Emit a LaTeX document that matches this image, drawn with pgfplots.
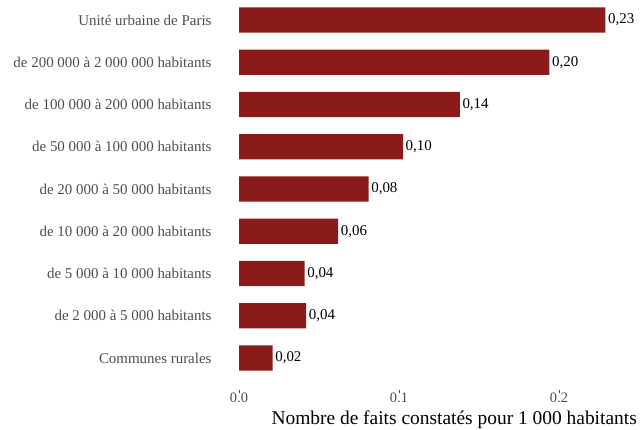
\documentclass[border=0pt]{standalone}
\usepackage{fontspec}
\setmainfont{Liberation Serif}
\usepackage{pgfplots}
\pgfplotsset{compat=1.18}
\definecolor{barRed}{HTML}{8B1A1A}
\definecolor{labGrey}{HTML}{4D4D4D}

\pgfplotstableread{
x      y  lab
0.021  0  0,02
0.042  1  0,04
0.041  2  0,04
0.062  3  0,06
0.081  4  0,08
0.1025 5  0,10
0.138  6  0,14
0.194  7  0,20
0.229  8  0,23
}\faits

\begin{document}
\begin{tikzpicture}
\path[use as bounding box] (0,0) rectangle (642bp,430bp);
\begin{axis}[
  at={(239bp,40bp)}, anchor=south west,
  scale only axis, width=398bp, height=389bp,
  xbar, bar width=0.6, bar shift=0pt,
  xmin=0, xmax=0.24875, ymin=-0.757, ymax=8.45,
  axis line style={draw=none},
  xtick={0,0.1,0.2}, xticklabels={0.0,0.1,0.2},
  xtick pos=bottom, tick align=outside, major tick length=3bp,
  xtick style={draw=labGrey, line width=0.6bp},
  xticklabel style={font=\fontsize{14.5}{17}\selectfont, text=labGrey, yshift=4bp},
  ytick={0,...,8},
  yticklabels={Communes rurales,
    de 2 000 à 5 000 habitants,
    de 5 000 à 10 000 habitants,
    de 10 000 à 20 000 habitants,
    de 20 000 à 50 000 habitants,
    de 50 000 à 100 000 habitants,
    de 100 000 à 200 000 habitants,
    de 200 000 à 2 000 000 habitants,
    Unité urbaine de Paris},
  ytick style={draw=none},
  yticklabel style={font=\fontsize{15}{18}\selectfont, text=labGrey, xshift=-21bp},
  xlabel={Nombre de faits constatés pour 1 000 habitants},
  xlabel style={at={(xticklabel cs:1)}, anchor=north east, inner sep=0pt,
    font=\fontsize{19.5}{23}\selectfont, yshift=-5bp},
  point meta=explicit symbolic,
  nodes near coords,
  nodes near coords style={anchor=west, inner sep=2.5bp, text=black,
    font=\fontsize{15}{18}\selectfont},
  clip=false,
]
\addplot[fill=barRed, draw=none] table[x=x, y=y, meta=lab] {\faits};
\end{axis}
\end{tikzpicture}
\end{document}
